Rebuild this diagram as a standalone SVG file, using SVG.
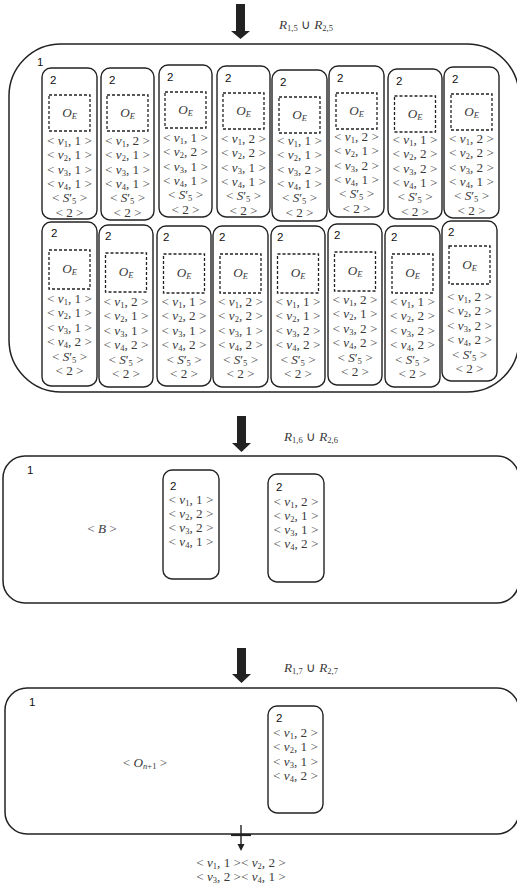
<svg xmlns="http://www.w3.org/2000/svg" width="517" height="888" viewBox="0 0 517 888">
<style>
.m{font-family:"Liberation Serif",serif;font-size:13.2px;fill:#3a3a3a;text-anchor:middle}
.i{font-style:italic}
.s{font-size:8.5px}
.lbl{font-family:"Liberation Sans",sans-serif;font-size:11.5px;fill:#111}
.box{fill:#fff;stroke:#222;stroke-width:1.4}
.outer{fill:none;stroke:#222;stroke-width:1.5}
.dash{fill:none;stroke:#222;stroke-width:1.3;stroke-dasharray:3 2}
.arr{fill:#222}
</style>
<rect width="517" height="888" fill="#fff"/>

<g id="connectors">
<polygon class="arr" points="236,4 245,4 245,31 250,31 240.5,39 231,31 236,31"/>
<polygon class="arr" points="237,416 246,416 246,443 251,443 241.5,452 232,443 237,443"/>
<polygon class="arr" points="237,648 246,648 246,674 251,674 241.5,683 232,674 237,674"/>
<line x1="241" y1="825" x2="241" y2="845" stroke="#222" stroke-width="1.4"/>
<polygon class="arr" points="237.5,844 244.5,844 241,851"/>
<line x1="231" y1="835" x2="251" y2="835" stroke="#222" stroke-width="2.2"/>
</g>

<g id="label-r5"><text class="m" x="306" y="29"><tspan class="i">R</tspan><tspan class="s" dy="2">1,5</tspan><tspan dy="-2"> ∪ </tspan><tspan class="i">R</tspan><tspan class="s" dy="2">2,5</tspan></text></g>
<g id="label-r6"><text class="m" x="311" y="441"><tspan class="i">R</tspan><tspan class="s" dy="2">1,6</tspan><tspan dy="-2"> ∪ </tspan><tspan class="i">R</tspan><tspan class="s" dy="2">2,6</tspan></text></g>
<g id="label-r7"><text class="m" x="311" y="672"><tspan class="i">R</tspan><tspan class="s" dy="2">1,7</tspan><tspan dy="-2"> ∪ </tspan><tspan class="i">R</tspan><tspan class="s" dy="2">2,7</tspan></text></g>

<g id="membrane1-a">
<rect class="outer" x="9" y="44" width="510" height="348" rx="52"/>
<text class="lbl" x="37" y="66">1</text>
</g>

<!-- top row -->
<g id="t1" transform="translate(42,68)">
<rect class="box" width="55" height="151" rx="9"/>
<text class="lbl" x="8" y="16">2</text>
<rect class="dash" x="7" y="27" width="41" height="36"/>
<text class="m" x="27.5" y="49"><tspan class="i">O</tspan><tspan class="s i" dy="2">E</tspan></text>
<text class="m" x="27.5" y="77">&lt; <tspan class="i">v</tspan><tspan class="s" dy="2">1</tspan><tspan dy="-2">, 1 &gt;</tspan></text>
<text class="m" x="27.5" y="91.3">&lt; <tspan class="i">v</tspan><tspan class="s" dy="2">2</tspan><tspan dy="-2">, 1 &gt;</tspan></text>
<text class="m" x="27.5" y="105.6">&lt; <tspan class="i">v</tspan><tspan class="s" dy="2">3</tspan><tspan dy="-2">, 1 &gt;</tspan></text>
<text class="m" x="27.5" y="120">&lt; <tspan class="i">v</tspan><tspan class="s" dy="2">4</tspan><tspan dy="-2">, 1 &gt;</tspan></text>
<text class="m" x="27.5" y="134.3">&lt; <tspan class="i">S</tspan>′<tspan class="s" dy="2">5</tspan><tspan dy="-2"> &gt;</tspan></text>
<text class="m" x="27.5" y="148.6">&lt; 2 &gt;</text>
</g>
<g id="t2" transform="translate(101,68)">
<rect class="box" width="53" height="152" rx="9"/>
<text class="lbl" x="8" y="16">2</text>
<rect class="dash" x="6" y="27" width="41" height="36"/>
<text class="m" x="26.5" y="49"><tspan class="i">O</tspan><tspan class="s i" dy="2">E</tspan></text>
<text class="m" x="26.5" y="77">&lt; <tspan class="i">v</tspan><tspan class="s" dy="2">1</tspan><tspan dy="-2">, 2 &gt;</tspan></text>
<text class="m" x="26.5" y="91.3">&lt; <tspan class="i">v</tspan><tspan class="s" dy="2">2</tspan><tspan dy="-2">, 1 &gt;</tspan></text>
<text class="m" x="26.5" y="105.6">&lt; <tspan class="i">v</tspan><tspan class="s" dy="2">3</tspan><tspan dy="-2">, 1 &gt;</tspan></text>
<text class="m" x="26.5" y="120">&lt; <tspan class="i">v</tspan><tspan class="s" dy="2">4</tspan><tspan dy="-2">, 1 &gt;</tspan></text>
<text class="m" x="26.5" y="134.3">&lt; <tspan class="i">S</tspan>′<tspan class="s" dy="2">5</tspan><tspan dy="-2"> &gt;</tspan></text>
<text class="m" x="26.5" y="148.6">&lt; 2 &gt;</text>
</g>
<g id="t3" transform="translate(159,65)">
<rect class="box" width="53" height="152" rx="9"/>
<text class="lbl" x="8" y="16">2</text>
<rect class="dash" x="6" y="27" width="41" height="36"/>
<text class="m" x="26.5" y="49"><tspan class="i">O</tspan><tspan class="s i" dy="2">E</tspan></text>
<text class="m" x="26.5" y="77">&lt; <tspan class="i">v</tspan><tspan class="s" dy="2">1</tspan><tspan dy="-2">, 1 &gt;</tspan></text>
<text class="m" x="26.5" y="91.3">&lt; <tspan class="i">v</tspan><tspan class="s" dy="2">2</tspan><tspan dy="-2">, 2 &gt;</tspan></text>
<text class="m" x="26.5" y="105.6">&lt; <tspan class="i">v</tspan><tspan class="s" dy="2">3</tspan><tspan dy="-2">, 1 &gt;</tspan></text>
<text class="m" x="26.5" y="120">&lt; <tspan class="i">v</tspan><tspan class="s" dy="2">4</tspan><tspan dy="-2">, 1 &gt;</tspan></text>
<text class="m" x="26.5" y="134.3">&lt; <tspan class="i">S</tspan>′<tspan class="s" dy="2">5</tspan><tspan dy="-2"> &gt;</tspan></text>
<text class="m" x="26.5" y="148.6">&lt; 2 &gt;</text>
</g>
<g id="t4" transform="translate(217,66)">
<rect class="box" width="53" height="151" rx="9"/>
<text class="lbl" x="8" y="16">2</text>
<rect class="dash" x="6" y="27" width="41" height="36"/>
<text class="m" x="26.5" y="49"><tspan class="i">O</tspan><tspan class="s i" dy="2">E</tspan></text>
<text class="m" x="26.5" y="77">&lt; <tspan class="i">v</tspan><tspan class="s" dy="2">1</tspan><tspan dy="-2">, 2 &gt;</tspan></text>
<text class="m" x="26.5" y="91.3">&lt; <tspan class="i">v</tspan><tspan class="s" dy="2">2</tspan><tspan dy="-2">, 2 &gt;</tspan></text>
<text class="m" x="26.5" y="105.6">&lt; <tspan class="i">v</tspan><tspan class="s" dy="2">3</tspan><tspan dy="-2">, 1 &gt;</tspan></text>
<text class="m" x="26.5" y="120">&lt; <tspan class="i">v</tspan><tspan class="s" dy="2">4</tspan><tspan dy="-2">, 1 &gt;</tspan></text>
<text class="m" x="26.5" y="134.3">&lt; <tspan class="i">S</tspan>′<tspan class="s" dy="2">5</tspan><tspan dy="-2"> &gt;</tspan></text>
<text class="m" x="26.5" y="148.6">&lt; 2 &gt;</text>
</g>
<g id="t5" transform="translate(272,70)">
<rect class="box" width="55" height="151" rx="9"/>
<text class="lbl" x="8" y="16">2</text>
<rect class="dash" x="7" y="27" width="41" height="36"/>
<text class="m" x="27.5" y="49"><tspan class="i">O</tspan><tspan class="s i" dy="2">E</tspan></text>
<text class="m" x="27.5" y="75">&lt; <tspan class="i">v</tspan><tspan class="s" dy="2">1</tspan><tspan dy="-2">, 1 &gt;</tspan></text>
<text class="m" x="27.5" y="89.3">&lt; <tspan class="i">v</tspan><tspan class="s" dy="2">2</tspan><tspan dy="-2">, 1 &gt;</tspan></text>
<text class="m" x="27.5" y="103.6">&lt; <tspan class="i">v</tspan><tspan class="s" dy="2">3</tspan><tspan dy="-2">, 2 &gt;</tspan></text>
<text class="m" x="27.5" y="118">&lt; <tspan class="i">v</tspan><tspan class="s" dy="2">4</tspan><tspan dy="-2">, 1 &gt;</tspan></text>
<text class="m" x="27.5" y="132.3">&lt; <tspan class="i">S</tspan>′<tspan class="s" dy="2">5</tspan><tspan dy="-2"> &gt;</tspan></text>
<text class="m" x="27.5" y="146.6">&lt; 2 &gt;</text>
</g>
<g id="t6" transform="translate(329,66)">
<rect class="box" width="55" height="151" rx="9"/>
<text class="lbl" x="8" y="16">2</text>
<rect class="dash" x="7" y="27" width="41" height="36"/>
<text class="m" x="27.5" y="49"><tspan class="i">O</tspan><tspan class="s i" dy="2">E</tspan></text>
<text class="m" x="27.5" y="75">&lt; <tspan class="i">v</tspan><tspan class="s" dy="2">1</tspan><tspan dy="-2">, 2 &gt;</tspan></text>
<text class="m" x="27.5" y="89.3">&lt; <tspan class="i">v</tspan><tspan class="s" dy="2">2</tspan><tspan dy="-2">, 1 &gt;</tspan></text>
<text class="m" x="27.5" y="103.6">&lt; <tspan class="i">v</tspan><tspan class="s" dy="2">3</tspan><tspan dy="-2">, 2 &gt;</tspan></text>
<text class="m" x="27.5" y="118">&lt; <tspan class="i">v</tspan><tspan class="s" dy="2">4</tspan><tspan dy="-2">, 1 &gt;</tspan></text>
<text class="m" x="27.5" y="132.3">&lt; <tspan class="i">S</tspan>′<tspan class="s" dy="2">5</tspan><tspan dy="-2"> &gt;</tspan></text>
<text class="m" x="27.5" y="146.6">&lt; 2 &gt;</text>
</g>
<g id="t7" transform="translate(388,69)">
<rect class="box" width="54" height="150" rx="9"/>
<text class="lbl" x="8" y="16">2</text>
<rect class="dash" x="6.5" y="27" width="41" height="36"/>
<text class="m" x="27" y="49"><tspan class="i">O</tspan><tspan class="s i" dy="2">E</tspan></text>
<text class="m" x="27" y="75">&lt; <tspan class="i">v</tspan><tspan class="s" dy="2">1</tspan><tspan dy="-2">, 1 &gt;</tspan></text>
<text class="m" x="27" y="89.3">&lt; <tspan class="i">v</tspan><tspan class="s" dy="2">2</tspan><tspan dy="-2">, 2 &gt;</tspan></text>
<text class="m" x="27" y="103.6">&lt; <tspan class="i">v</tspan><tspan class="s" dy="2">3</tspan><tspan dy="-2">, 2 &gt;</tspan></text>
<text class="m" x="27" y="118">&lt; <tspan class="i">v</tspan><tspan class="s" dy="2">4</tspan><tspan dy="-2">, 1 &gt;</tspan></text>
<text class="m" x="27" y="132.3">&lt; <tspan class="i">S</tspan>′<tspan class="s" dy="2">5</tspan><tspan dy="-2"> &gt;</tspan></text>
<text class="m" x="27" y="146.6">&lt; 2 &gt;</text>
</g>
<g id="t8" transform="translate(444,67)">
<rect class="box" width="55" height="151" rx="9"/>
<text class="lbl" x="8" y="16">2</text>
<rect class="dash" x="7" y="27" width="41" height="36"/>
<text class="m" x="27.5" y="49"><tspan class="i">O</tspan><tspan class="s i" dy="2">E</tspan></text>
<text class="m" x="27.5" y="76">&lt; <tspan class="i">v</tspan><tspan class="s" dy="2">1</tspan><tspan dy="-2">, 2 &gt;</tspan></text>
<text class="m" x="27.5" y="90.3">&lt; <tspan class="i">v</tspan><tspan class="s" dy="2">2</tspan><tspan dy="-2">, 2 &gt;</tspan></text>
<text class="m" x="27.5" y="104.6">&lt; <tspan class="i">v</tspan><tspan class="s" dy="2">3</tspan><tspan dy="-2">, 2 &gt;</tspan></text>
<text class="m" x="27.5" y="119">&lt; <tspan class="i">v</tspan><tspan class="s" dy="2">4</tspan><tspan dy="-2">, 1 &gt;</tspan></text>
<text class="m" x="27.5" y="133.3">&lt; <tspan class="i">S</tspan>′<tspan class="s" dy="2">5</tspan><tspan dy="-2"> &gt;</tspan></text>
<text class="m" x="27.5" y="147.6">&lt; 2 &gt;</text>
</g>

<!-- bottom row -->
<g id="b1" transform="translate(42,222)">
<rect class="box" width="55" height="164" rx="9"/>
<text class="lbl" x="9" y="15">2</text>
<rect class="dash" x="7" y="28" width="41" height="39"/>
<text class="m" x="27.5" y="51"><tspan class="i">O</tspan><tspan class="s i" dy="2">E</tspan></text>
<text class="m" x="27.5" y="81">&lt; <tspan class="i">v</tspan><tspan class="s" dy="2">1</tspan><tspan dy="-2">, 1 &gt;</tspan></text>
<text class="m" x="27.5" y="95.4">&lt; <tspan class="i">v</tspan><tspan class="s" dy="2">2</tspan><tspan dy="-2">, 1 &gt;</tspan></text>
<text class="m" x="27.5" y="109.8">&lt; <tspan class="i">v</tspan><tspan class="s" dy="2">3</tspan><tspan dy="-2">, 1 &gt;</tspan></text>
<text class="m" x="27.5" y="124.2">&lt; <tspan class="i">v</tspan><tspan class="s" dy="2">4</tspan><tspan dy="-2">, 2 &gt;</tspan></text>
<text class="m" x="27.5" y="138.6">&lt; <tspan class="i">S</tspan>′<tspan class="s" dy="2">5</tspan><tspan dy="-2"> &gt;</tspan></text>
<text class="m" x="27.5" y="153">&lt; 2 &gt;</text>
</g>
<g id="b2" transform="translate(99,225)">
<rect class="box" width="54" height="162" rx="9"/>
<text class="lbl" x="6" y="15">2</text>
<rect class="dash" x="6.5" y="28" width="41" height="39"/>
<text class="m" x="27" y="51"><tspan class="i">O</tspan><tspan class="s i" dy="2">E</tspan></text>
<text class="m" x="27" y="81">&lt; <tspan class="i">v</tspan><tspan class="s" dy="2">1</tspan><tspan dy="-2">, 2 &gt;</tspan></text>
<text class="m" x="27" y="95.4">&lt; <tspan class="i">v</tspan><tspan class="s" dy="2">2</tspan><tspan dy="-2">, 1 &gt;</tspan></text>
<text class="m" x="27" y="109.8">&lt; <tspan class="i">v</tspan><tspan class="s" dy="2">3</tspan><tspan dy="-2">, 1 &gt;</tspan></text>
<text class="m" x="27" y="124.2">&lt; <tspan class="i">v</tspan><tspan class="s" dy="2">4</tspan><tspan dy="-2">, 2 &gt;</tspan></text>
<text class="m" x="27" y="138.6">&lt; <tspan class="i">S</tspan>′<tspan class="s" dy="2">5</tspan><tspan dy="-2"> &gt;</tspan></text>
<text class="m" x="27" y="153">&lt; 2 &gt;</text>
</g>
<g id="b3" transform="translate(157,226)">
<rect class="box" width="54" height="160" rx="9"/>
<text class="lbl" x="6" y="15">2</text>
<rect class="dash" x="6.5" y="28" width="41" height="39"/>
<text class="m" x="27" y="51"><tspan class="i">O</tspan><tspan class="s i" dy="2">E</tspan></text>
<text class="m" x="27" y="80">&lt; <tspan class="i">v</tspan><tspan class="s" dy="2">1</tspan><tspan dy="-2">, 1 &gt;</tspan></text>
<text class="m" x="27" y="94.4">&lt; <tspan class="i">v</tspan><tspan class="s" dy="2">2</tspan><tspan dy="-2">, 2 &gt;</tspan></text>
<text class="m" x="27" y="108.8">&lt; <tspan class="i">v</tspan><tspan class="s" dy="2">3</tspan><tspan dy="-2">, 1 &gt;</tspan></text>
<text class="m" x="27" y="123.2">&lt; <tspan class="i">v</tspan><tspan class="s" dy="2">4</tspan><tspan dy="-2">, 2 &gt;</tspan></text>
<text class="m" x="27" y="137.6">&lt; <tspan class="i">S</tspan>′<tspan class="s" dy="2">5</tspan><tspan dy="-2"> &gt;</tspan></text>
<text class="m" x="27" y="152">&lt; 2 &gt;</text>
</g>
<g id="b4" transform="translate(213,226)">
<rect class="box" width="55" height="161" rx="9"/>
<text class="lbl" x="6" y="15">2</text>
<rect class="dash" x="7" y="28" width="41" height="39"/>
<text class="m" x="27.5" y="51"><tspan class="i">O</tspan><tspan class="s i" dy="2">E</tspan></text>
<text class="m" x="27.5" y="80">&lt; <tspan class="i">v</tspan><tspan class="s" dy="2">1</tspan><tspan dy="-2">, 2 &gt;</tspan></text>
<text class="m" x="27.5" y="94.4">&lt; <tspan class="i">v</tspan><tspan class="s" dy="2">2</tspan><tspan dy="-2">, 2 &gt;</tspan></text>
<text class="m" x="27.5" y="108.8">&lt; <tspan class="i">v</tspan><tspan class="s" dy="2">3</tspan><tspan dy="-2">, 1 &gt;</tspan></text>
<text class="m" x="27.5" y="123.2">&lt; <tspan class="i">v</tspan><tspan class="s" dy="2">4</tspan><tspan dy="-2">, 2 &gt;</tspan></text>
<text class="m" x="27.5" y="137.6">&lt; <tspan class="i">S</tspan>′<tspan class="s" dy="2">5</tspan><tspan dy="-2"> &gt;</tspan></text>
<text class="m" x="27.5" y="152">&lt; 2 &gt;</text>
</g>
<g id="b5" transform="translate(271,226)">
<rect class="box" width="54" height="161" rx="9"/>
<text class="lbl" x="6" y="15">2</text>
<rect class="dash" x="6.5" y="28" width="41" height="39"/>
<text class="m" x="27" y="51"><tspan class="i">O</tspan><tspan class="s i" dy="2">E</tspan></text>
<text class="m" x="27" y="80">&lt; <tspan class="i">v</tspan><tspan class="s" dy="2">1</tspan><tspan dy="-2">, 1 &gt;</tspan></text>
<text class="m" x="27" y="94.4">&lt; <tspan class="i">v</tspan><tspan class="s" dy="2">2</tspan><tspan dy="-2">, 1 &gt;</tspan></text>
<text class="m" x="27" y="108.8">&lt; <tspan class="i">v</tspan><tspan class="s" dy="2">3</tspan><tspan dy="-2">, 2 &gt;</tspan></text>
<text class="m" x="27" y="123.2">&lt; <tspan class="i">v</tspan><tspan class="s" dy="2">4</tspan><tspan dy="-2">, 2 &gt;</tspan></text>
<text class="m" x="27" y="137.6">&lt; <tspan class="i">S</tspan>′<tspan class="s" dy="2">5</tspan><tspan dy="-2"> &gt;</tspan></text>
<text class="m" x="27" y="152">&lt; 2 &gt;</text>
</g>
<g id="b6" transform="translate(328,224)">
<rect class="box" width="54" height="161" rx="9"/>
<text class="lbl" x="6" y="15">2</text>
<rect class="dash" x="6.5" y="28" width="41" height="39"/>
<text class="m" x="27" y="51"><tspan class="i">O</tspan><tspan class="s i" dy="2">E</tspan></text>
<text class="m" x="27" y="80">&lt; <tspan class="i">v</tspan><tspan class="s" dy="2">1</tspan><tspan dy="-2">, 2 &gt;</tspan></text>
<text class="m" x="27" y="94.4">&lt; <tspan class="i">v</tspan><tspan class="s" dy="2">2</tspan><tspan dy="-2">, 1 &gt;</tspan></text>
<text class="m" x="27" y="108.8">&lt; <tspan class="i">v</tspan><tspan class="s" dy="2">3</tspan><tspan dy="-2">, 2 &gt;</tspan></text>
<text class="m" x="27" y="123.2">&lt; <tspan class="i">v</tspan><tspan class="s" dy="2">4</tspan><tspan dy="-2">, 2 &gt;</tspan></text>
<text class="m" x="27" y="137.6">&lt; <tspan class="i">S</tspan>′<tspan class="s" dy="2">5</tspan><tspan dy="-2"> &gt;</tspan></text>
<text class="m" x="27" y="152">&lt; 2 &gt;</text>
</g>
<g id="b7" transform="translate(385,226)">
<rect class="box" width="55" height="161" rx="9"/>
<text class="lbl" x="6" y="15">2</text>
<rect class="dash" x="7" y="28" width="41" height="39"/>
<text class="m" x="27.5" y="51"><tspan class="i">O</tspan><tspan class="s i" dy="2">E</tspan></text>
<text class="m" x="27.5" y="80">&lt; <tspan class="i">v</tspan><tspan class="s" dy="2">1</tspan><tspan dy="-2">, 1 &gt;</tspan></text>
<text class="m" x="27.5" y="94.4">&lt; <tspan class="i">v</tspan><tspan class="s" dy="2">2</tspan><tspan dy="-2">, 2 &gt;</tspan></text>
<text class="m" x="27.5" y="108.8">&lt; <tspan class="i">v</tspan><tspan class="s" dy="2">3</tspan><tspan dy="-2">, 2 &gt;</tspan></text>
<text class="m" x="27.5" y="123.2">&lt; <tspan class="i">v</tspan><tspan class="s" dy="2">4</tspan><tspan dy="-2">, 2 &gt;</tspan></text>
<text class="m" x="27.5" y="137.6">&lt; <tspan class="i">S</tspan>′<tspan class="s" dy="2">5</tspan><tspan dy="-2"> &gt;</tspan></text>
<text class="m" x="27.5" y="152">&lt; 2 &gt;</text>
</g>
<g id="b8" transform="translate(442,221)">
<rect class="box" width="55" height="160" rx="9"/>
<text class="lbl" x="6" y="15">2</text>
<rect class="dash" x="7" y="25" width="41" height="38"/>
<text class="m" x="27.5" y="48"><tspan class="i">O</tspan><tspan class="s i" dy="2">E</tspan></text>
<text class="m" x="27.5" y="80">&lt; <tspan class="i">v</tspan><tspan class="s" dy="2">1</tspan><tspan dy="-2">, 2 &gt;</tspan></text>
<text class="m" x="27.5" y="94.4">&lt; <tspan class="i">v</tspan><tspan class="s" dy="2">2</tspan><tspan dy="-2">, 2 &gt;</tspan></text>
<text class="m" x="27.5" y="108.8">&lt; <tspan class="i">v</tspan><tspan class="s" dy="2">3</tspan><tspan dy="-2">, 2 &gt;</tspan></text>
<text class="m" x="27.5" y="123.2">&lt; <tspan class="i">v</tspan><tspan class="s" dy="2">4</tspan><tspan dy="-2">, 2 &gt;</tspan></text>
<text class="m" x="27.5" y="137.6">&lt; <tspan class="i">S</tspan>′<tspan class="s" dy="2">5</tspan><tspan dy="-2"> &gt;</tspan></text>
<text class="m" x="27.5" y="152">&lt; 2 &gt;</text>
</g>

<!-- middle stage -->
<g id="membrane1-b">
<rect class="outer" x="3" y="456" width="516" height="147" rx="22"/>
<text class="lbl" x="27" y="474">1</text>
<text class="m" x="102" y="533">&lt; <tspan class="i">B</tspan> &gt;</text>
</g>
<g id="m1" transform="translate(163,470)">
<rect class="box" width="56" height="109" rx="9"/>
<text class="lbl" x="7" y="20">2</text>
<text class="m" x="28" y="34">&lt; <tspan class="i">v</tspan><tspan class="s" dy="2">1</tspan><tspan dy="-2">, 1 &gt;</tspan></text>
<text class="m" x="28" y="48">&lt; <tspan class="i">v</tspan><tspan class="s" dy="2">2</tspan><tspan dy="-2">, 2 &gt;</tspan></text>
<text class="m" x="28" y="62">&lt; <tspan class="i">v</tspan><tspan class="s" dy="2">3</tspan><tspan dy="-2">, 2 &gt;</tspan></text>
<text class="m" x="28" y="76">&lt; <tspan class="i">v</tspan><tspan class="s" dy="2">4</tspan><tspan dy="-2">, 1 &gt;</tspan></text>
</g>
<g id="m2" transform="translate(268,474)">
<rect class="box" width="56" height="108" rx="9"/>
<text class="lbl" x="8" y="17">2</text>
<text class="m" x="28" y="32">&lt; <tspan class="i">v</tspan><tspan class="s" dy="2">1</tspan><tspan dy="-2">, 2 &gt;</tspan></text>
<text class="m" x="28" y="46">&lt; <tspan class="i">v</tspan><tspan class="s" dy="2">2</tspan><tspan dy="-2">, 1 &gt;</tspan></text>
<text class="m" x="28" y="60">&lt; <tspan class="i">v</tspan><tspan class="s" dy="2">3</tspan><tspan dy="-2">, 1 &gt;</tspan></text>
<text class="m" x="28" y="74">&lt; <tspan class="i">v</tspan><tspan class="s" dy="2">4</tspan><tspan dy="-2">, 2 &gt;</tspan></text>
</g>

<!-- bottom stage -->
<g id="membrane1-c">
<rect class="outer" x="5" y="688" width="514" height="146" rx="22"/>
<text class="lbl" x="29" y="706">1</text>
<text class="m" x="145" y="767">&lt; <tspan class="i">O</tspan><tspan class="s i" dy="2">n</tspan><tspan class="s">+1</tspan><tspan dy="-2"> &gt;</tspan></text>
</g>
<g id="n1" transform="translate(268,706)">
<rect class="box" width="55" height="107" rx="9"/>
<text class="lbl" x="8" y="16">2</text>
<text class="m" x="27.5" y="31">&lt; <tspan class="i">v</tspan><tspan class="s" dy="2">1</tspan><tspan dy="-2">, 2 &gt;</tspan></text>
<text class="m" x="27.5" y="45">&lt; <tspan class="i">v</tspan><tspan class="s" dy="2">2</tspan><tspan dy="-2">, 1 &gt;</tspan></text>
<text class="m" x="27.5" y="60">&lt; <tspan class="i">v</tspan><tspan class="s" dy="2">3</tspan><tspan dy="-2">, 1 &gt;</tspan></text>
<text class="m" x="27.5" y="74">&lt; <tspan class="i">v</tspan><tspan class="s" dy="2">4</tspan><tspan dy="-2">, 2 &gt;</tspan></text>
</g>

<g id="output">
<text class="m" x="241" y="867">&lt; <tspan class="i">v</tspan><tspan class="s" dy="2">1</tspan><tspan dy="-2">, 1 &gt;&lt; </tspan><tspan class="i">v</tspan><tspan class="s" dy="2">2</tspan><tspan dy="-2">, 2 &gt;</tspan></text>
<text class="m" x="241" y="881">&lt; <tspan class="i">v</tspan><tspan class="s" dy="2">3</tspan><tspan dy="-2">, 2 &gt;&lt; </tspan><tspan class="i">v</tspan><tspan class="s" dy="2">4</tspan><tspan dy="-2">, 1 &gt;</tspan></text>
</g>
</svg>
